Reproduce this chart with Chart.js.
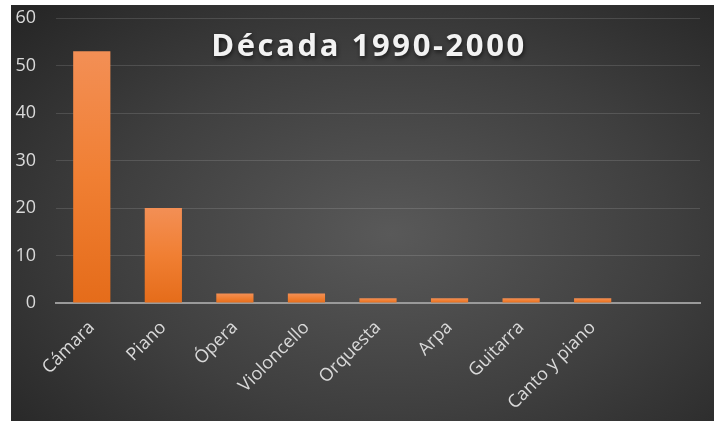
<!DOCTYPE html>
<html>
<head>
<meta charset="utf-8">
<script src="https://cdn.jsdelivr.net/npm/chart.js@4/dist/chart.umd.min.js"></script>
<style>
  html, body { margin: 0; padding: 0; background: #fff; }
  #box {
    position: absolute; left: 11px; top: 5px; width: 703px; height: 416px;
    background: radial-gradient(ellipse 72% 78% at 54% 55%, #595959 0%, #3f3f3f 55%, #262626 100%);
  }
</style>
</head>
<body>
<div id="box"><canvas id="chart" width="703" height="416"></canvas></div>
<script>
// Número de obras por género, década 1990-2000
const categories = ['Cámara', 'Piano', 'Ópera', 'Violoncello', 'Orquesta', 'Arpa', 'Guitarra', 'Canto y piano', ''];
const values = [53, 20, 2, 2, 1, 1, 1, 1, null];
const yTicks = [0, 10, 20, 30, 40, 50, 60];
const chartTitle = 'Década 1990-2000';

const titlePlugin = {
    id: 'overlayTitle',
    afterDraw(chart) {
        const ctx = chart.ctx;
        ctx.save();
        ctx.font = 'bold 31px "Open Sans"';
        ctx.letterSpacing = '2.6px';
        ctx.fillStyle = '#f2f2f2';
        ctx.textAlign = 'center';
        ctx.textBaseline = 'middle';
        ctx.shadowColor = 'rgba(0,0,0,0.6)';
        ctx.shadowBlur = 4;
        ctx.shadowOffsetX = 1;
        ctx.shadowOffsetY = 2;
        ctx.fillText(chartTitle, 358, 42);
        ctx.restore();
    }
};

function barFill(context) {
    const chart = context.chart;
    const y = chart.scales.y;
    const v = context.raw;
    if (!y || v == null) return '#ed7d31';
    const top = y.getPixelForValue(v);
    const base = y.getPixelForValue(0);
    if (!isFinite(top) || !isFinite(base) || top === base) return '#ed7d31';
    const g = chart.ctx.createLinearGradient(0, top, 0, base);
    g.addColorStop(0, '#f38f55');
    g.addColorStop(0.5, '#f07f33');
    g.addColorStop(1, '#e56c1a');
    return g;
}

const ctx = document.getElementById('chart').getContext('2d');
new Chart(ctx, {
    type: 'bar',
    data: {
        labels: categories,
        datasets: [{
            data: values,
            backgroundColor: barFill,
            borderWidth: 0,
            barPercentage: 0.52,
            categoryPercentage: 1
        }]
    },
    options: {
        responsive: false,
        animation: false,
        devicePixelRatio: 1,
        layout: { padding: { left: 4, right: 14, top: 13, bottom: 0 } },
        plugins: { legend: { display: false }, tooltip: { enabled: false }, title: { display: false } },
        scales: {
            x: {
                grid: { display: false, drawTicks: false },
                border: { display: true, color: '#9a9a9a', width: 2 },
                ticks: {
                    color: '#d9d9d9',
                    font: { family: '"Open Sans"', size: 18 },
                    minRotation: 45, maxRotation: 45,
                    padding: 14,
                    autoSkip: false
                },
                afterFit(scale) {
                    scale.paddingLeft = 0;
                    scale.paddingRight = 0;
                    scale.height = 118;
                }
            },
            y: {
                min: 0, max: 60,
                afterBuildTicks(scale) { scale.ticks = yTicks.map(v => ({ value: v })); },
                grid: { color: 'rgba(255,255,255,0.13)', lineWidth: 1, drawTicks: false },
                border: { display: false },
                ticks: {
                    color: '#d9d9d9',
                    font: { family: '"Open Sans"', size: 18 },
                    padding: 20
                },
                afterFit(scale) {
                    scale.paddingTop = 0;
                    scale.paddingBottom = 0;
                    scale.width = 41;
                }
            }
        }
    },
    plugins: [titlePlugin]
});
</script>
</body>
</html>
